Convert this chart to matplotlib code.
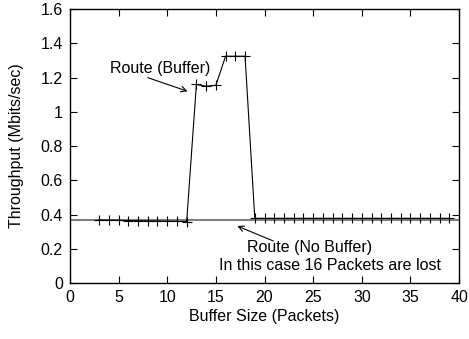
import matplotlib
matplotlib.use("Agg")
import matplotlib.pyplot as plt

plt.rcParams['font.family'] = ['Liberation Sans', 'DejaVu Sans']

# throughput with buffering, one point per buffer size
buffer_sizes = list(range(3, 40))
throughput_buffer = [0.368, 0.367, 0.366, 0.365, 0.364, 0.363, 0.362, 0.361, 0.360, 0.359,
                     1.160, 1.150, 1.155, 1.325, 1.325, 1.325,
                     0.378, 0.378, 0.378, 0.378, 0.378, 0.378, 0.378, 0.378, 0.378, 0.378,
                     0.378, 0.378, 0.378, 0.378, 0.378, 0.378, 0.378, 0.378, 0.378, 0.378, 0.378]

# throughput without buffering (flat)
no_buffer_x = [0, 40]
no_buffer_y = [0.366, 0.366]

xticks = list(range(0, 41, 5))
yticks = [0, 0.2, 0.4, 0.6, 0.8, 1.0, 1.2, 1.4, 1.6]
ytick_labels = ["0", "0.2", "0.4", "0.6", "0.8", "1", "1.2", "1.4", "1.6"]

FS = 11.5

fig = plt.figure(figsize=(4.69, 3.39), dpi=100)
ax = fig.add_axes([0.149, 0.165, 0.83, 0.808])

ax.plot(no_buffer_x, no_buffer_y, color="#808080", lw=1.5)
ax.plot(buffer_sizes, throughput_buffer, color="black", lw=0.8,
        marker="+", markersize=7, markeredgewidth=0.8)

ax.set_xlim(0, 40)
ax.set_ylim(0, 1.6)
ax.set_xticks(xticks)
ax.set_yticks(yticks)
ax.set_yticklabels(ytick_labels)
ax.tick_params(direction="in", top=True, right=True, length=5, width=0.8,
               labelsize=FS, pad=5)
for s in ax.spines.values():
    s.set_linewidth(1.0)

ax.set_xlabel("Buffer Size (Packets)", fontsize=FS, labelpad=3)
ax.set_ylabel("Throughput (Mbits/sec)", fontsize=FS, labelpad=12)

# labels and their arrows
ax.text(9.3, 1.255, "Route (Buffer)", ha="center", va="center", fontsize=FS)
ax.annotate("", xy=(12.1, 1.12), xytext=(8.0, 1.2),
            arrowprops=dict(arrowstyle="->", color="black", lw=0.8,
                            shrinkA=0, shrinkB=0))
ax.text(24.6, 0.205, "Route (No Buffer)", ha="center", va="center", fontsize=FS)
ax.text(26.7, 0.105, "In this case 16 Packets are lost",
        ha="center", va="center", fontsize=FS)
ax.annotate("", xy=(17.2, 0.333), xytext=(20.9, 0.246),
            arrowprops=dict(arrowstyle="->", color="black", lw=0.8,
                            shrinkA=0, shrinkB=0))

fig.savefig("out.png", dpi=100)
